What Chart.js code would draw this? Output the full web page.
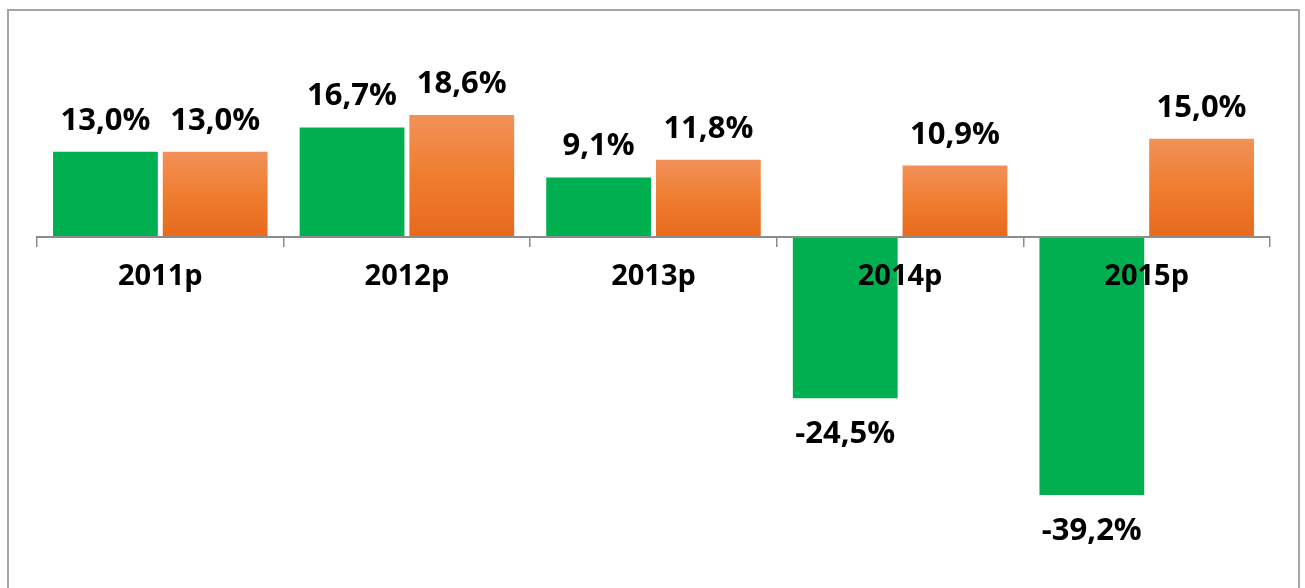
<!DOCTYPE html>
<html>
<head>
<meta charset="utf-8">
<title>Growth by year</title>
<script src="https://cdn.jsdelivr.net/npm/chart.js@4/dist/chart.umd.min.js"></script>
<style>
    html, body { margin: 0; padding: 0; background: #ffffff; }
    #wrap { position: relative; width: 1305px; height: 588px; }
</style>
</head>
<body>
<div id="wrap"><canvas id="growthChart" width="1305" height="588"></canvas></div>
<script>
// Chart data
const categories = ['2011p', '2012p', '2013p', '2014p', '2015p'];
const greenValues = [13.0, 16.7, 9.1, -24.5, -39.2];
const orangeValues = [13.0, 18.6, 11.8, 10.9, 15.0];
const yMin = -50;
const yMax = 30;

const FONT = '"Open Sans", "DejaVu Sans", sans-serif';

// Percent with a comma as decimal separator
function formatValue(v) {
    return v.toFixed(1).replace('.', ',') + '%';
}

// Orange bars fade from light at the top to deeper orange at the base
function orangeGradient(context) {
    const chart = context.chart;
    const yScale = chart.scales.y;
    if (!chart.chartArea || !yScale || context.parsed === undefined) return '#EF7A2E';
    const top = yScale.getPixelForValue(context.parsed.y);
    const base = yScale.getPixelForValue(0);
    const g = chart.ctx.createLinearGradient(0, top, 0, base);
    g.addColorStop(0, '#F29159');
    g.addColorStop(0.5, '#EF7D2F');
    g.addColorStop(1, '#E8691C');
    return g;
}

// Outer frame like the spreadsheet chart border
const framePlugin = {
    id: 'frame',
    beforeDraw(chart) {
        const ctx = chart.ctx;
        ctx.save();
        ctx.strokeStyle = '#a6a6a6';
        ctx.lineWidth = 2;
        ctx.strokeRect(8, 10, 1291, 620);
        ctx.restore();
    }
};

// Value labels above positive bars and below negative ones
const valueLabels = {
    id: 'valueLabels',
    afterDatasetsDraw(chart) {
        const ctx = chart.ctx;
        ctx.save();
        ctx.font = 'bold 31px ' + FONT;
        ctx.fillStyle = '#000000';
        ctx.textAlign = 'center';
        ctx.textBaseline = 'alphabetic';
        chart.data.datasets.forEach((ds, i) => {
            const meta = chart.getDatasetMeta(i);
            meta.data.forEach((bar, j) => {
                const v = ds.data[j];
                const y = v >= 0 ? bar.y - 22 : bar.y + 45;
                ctx.fillText(formatValue(v), bar.x, y);
            });
        });
        ctx.restore();
    }
};

new Chart(document.getElementById('growthChart'), {
    type: 'bar',
    data: {
        labels: categories,
        datasets: [{
            label: 'A',
            data: greenValues,
            backgroundColor: '#00B050',
            borderWidth: 0,
            categoryPercentage: 0.89,
            barPercentage: 0.955
        }, {
            label: 'B',
            data: orangeValues,
            backgroundColor: orangeGradient,
            borderWidth: 0,
            categoryPercentage: 0.89,
            barPercentage: 0.955
        }]
    },
    options: {
        responsive: false,
        animation: false,
        devicePixelRatio: 1,
        layout: {
            padding: { left: 37, right: 35, top: 40, bottom: 22 }
        },
        plugins: {
            legend: { display: false },
            tooltip: { enabled: false }
        },
        scales: {
            x: {
                position: { y: 0 },
                grid: {
                    drawOnChartArea: false,
                    drawTicks: true,
                    tickLength: 9,
                    offset: true,
                    color: '#8c8c8c',
                    lineWidth: 1.5,
                    z: 1
                },
                // axis line and labels sit on top of the bars
                border: { display: true, color: '#8c8c8c', width: 2, z: 1 },
                ticks: {
                    z: 1,
                    color: '#000000',
                    padding: 13,
                    font: { family: FONT, size: 29, weight: 'bold' }
                }
            },
            y: {
                display: false,
                min: yMin,
                max: yMax
            }
        }
    },
    plugins: [framePlugin, valueLabels]
});
</script>
</body>
</html>
